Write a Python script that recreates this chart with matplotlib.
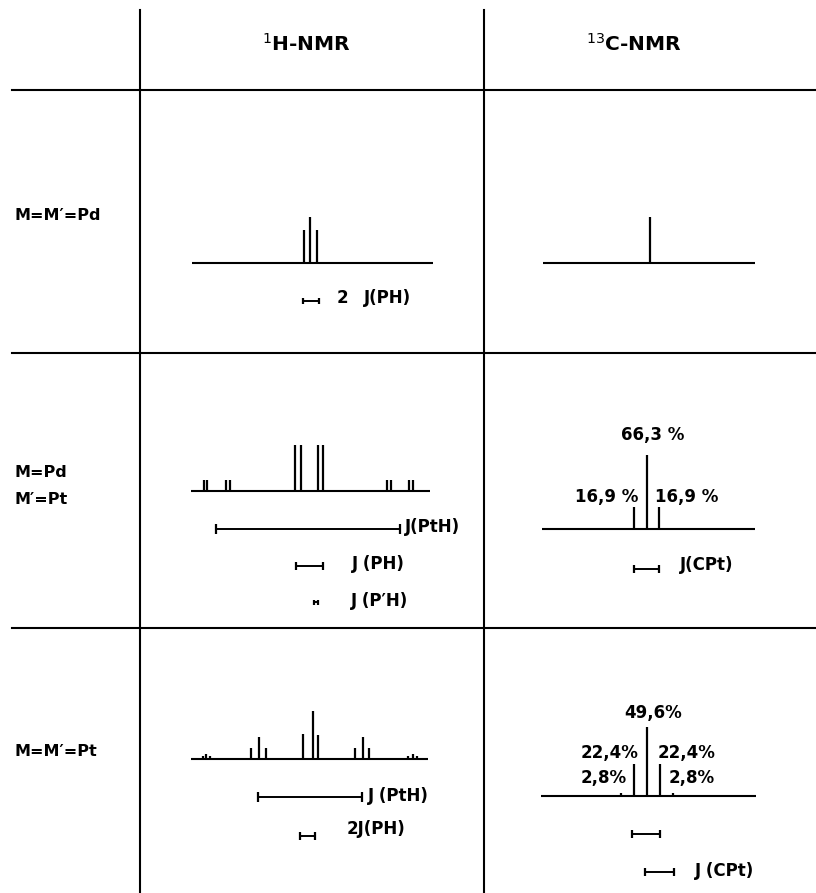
import matplotlib.pyplot as plt

# 1H stick spectra: line offsets from the multiplet centre and stick heights
h_pd_pos = [-6, 0, 7]
h_pd_hgt = [33, 46, 33]
h_pdpt_pos = [-105, -102, -83, -79, -14, -8, 9, 14, 78, 82, 100, 104]
h_pdpt_hgt = [11, 11, 11, 11, 46, 46, 46, 46, 11, 11, 11, 11]
h_pt_pos = [-108, -105, -101, -60, -52, -45, -8, 2, 7, 44, 52, 58, 97, 102, 106]
h_pt_hgt = [3, 5, 3, 11, 22, 11, 25, 48, 24, 11, 22, 11, 3, 5, 3]

# 13C stick spectra
c_pd_pos = [0]
c_pd_hgt = [46]
c_pdpt_pos = [-13, 0, 12]
c_pdpt_hgt = [22, 74, 22]
c_pdpt_lab = ['16,9 %', '66,3 %', '16,9 %']
c_pt_pos = [-26, -13, 0, 13, 26]
c_pt_hgt = [3, 32, 69, 32, 3]
c_pt_lab = ['2,8%', '22,4%', '49,6%', '22,4%', '2,8%']

# coupling constants shown as brackets
j_pd_ph = 16
j_pdpt_pth, j_pdpt_ph, j_pdpt_p2h = 184, 27, 4
j_pdpt_cpt = 25
j_pt_pth, j_pt_ph = 104, 15
j_pt_cpt = [28, 29]

row_labels = ['M=M\u2032=Pd', 'M=Pd\nM\u2032=Pt', 'M=M\u2032=Pt']

TXT = dict(fontsize=12, fontweight='bold', color='black', va='center')
ROW = dict(fontsize=11.5, fontweight='bold', color='black', va='center')

fig = plt.figure(figsize=(8.16, 8.93), dpi=100)
ax = fig.add_axes([0, 0, 1, 1])
ax.set_xlim(0, 816)
ax.set_ylim(893, 0)
ax.axis('off')


def sticks(cx, base, x0, x1, pos, hgt):
    ax.plot([x0, x1], [base, base], color='black', lw=1.5, solid_capstyle='butt')
    ax.vlines([cx + p for p in pos], base, [base - h for h in hgt],
              color='black', lw=1.6)


def bracket(x, y, width, tick=8):
    ax.plot([x, x + width], [y, y], color='black', lw=1.4)
    ax.vlines([x, x + width], y - tick / 2, y + tick / 2, color='black', lw=1.6)


# table grid
for gx in (140, 484):
    ax.plot([gx, gx], [10, 893], color='black', lw=1.5)
for gy in (90, 353, 628):
    ax.plot([12, 816], [gy, gy], color='black', lw=1.5)

ax.text(262, 44, r'$^{1}$H-NMR', fontsize=14.5, fontweight='bold', va='center')
ax.text(586, 44, r'$^{13}$C-NMR', fontsize=14.5, fontweight='bold', va='center')

ax.text(14, 216, row_labels[0], **ROW)
ax.text(14, 486, row_labels[1], linespacing=2.0, **ROW)
ax.text(14, 751, row_labels[2], **ROW)

# row 1: M=M'=Pd
sticks(310, 263, 192, 433, h_pd_pos, h_pd_hgt)
bracket(303, 301, j_pd_ph, tick=6)
ax.text(337, 298, '2', **TXT)
ax.text(364, 298, 'J(PH)', **TXT)
sticks(650, 263, 543, 755, c_pd_pos, c_pd_hgt)

# row 2: M=Pd, M'=Pt
sticks(309, 491, 191, 430, h_pdpt_pos, h_pdpt_hgt)
bracket(216, 529, j_pdpt_pth, tick=10)
ax.text(405, 527, 'J(PtH)', **TXT)
bracket(296, 566, j_pdpt_ph)
ax.text(352, 564, 'J (PH)', **TXT)
bracket(314, 602, j_pdpt_p2h, tick=5)
ax.text(351, 601, 'J (P\u2032H)', **TXT)

sticks(647, 529, 542, 755, c_pdpt_pos, c_pdpt_hgt)
ax.text(653, 435, c_pdpt_lab[1], ha='center', **TXT)
ax.text(638, 497, c_pdpt_lab[0], ha='right', **TXT)
ax.text(655, 497, c_pdpt_lab[2], ha='left', **TXT)
bracket(634, 569, j_pdpt_cpt)
ax.text(680, 565, 'J(CPt)', **TXT)

# row 3: M=M'=Pt
sticks(311, 759, 191, 428, h_pt_pos, h_pt_hgt)
bracket(258, 797, j_pt_pth, tick=10)
ax.text(368, 796, 'J (PtH)', **TXT)
bracket(300, 836, j_pt_ph)
ax.text(347, 829, '2J(PH)', **TXT)

sticks(647, 796, 541, 756, c_pt_pos, c_pt_hgt)
ax.text(653, 713, c_pt_lab[2], ha='center', **TXT)
ax.text(638, 753, c_pt_lab[1], ha='right', **TXT)
ax.text(658, 753, c_pt_lab[3], ha='left', **TXT)
ax.text(627, 778, c_pt_lab[0], ha='right', **TXT)
ax.text(669, 778, c_pt_lab[4], ha='left', **TXT)
bracket(632, 834, j_pt_cpt[0])
bracket(645, 872, j_pt_cpt[1])
ax.text(695, 871, 'J (CPt)', **TXT)

fig.savefig('out.png', dpi=100)
